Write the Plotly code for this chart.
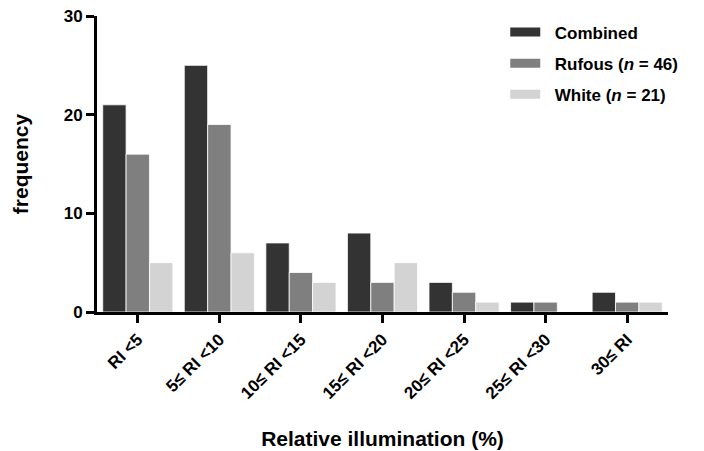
import plotly.graph_objects as go

categories = ["RI <5", "5≤ RI <10", "10≤ RI <15", "15≤ RI <20", "20≤ RI <25", "25≤ RI <30", "30≤ RI"]
combined = [21, 25, 7, 8, 3, 1, 2]
rufous = [16, 19, 4, 3, 2, 1, 1]
white = [5, 6, 3, 5, 1, 0, 1]
series_names = ["Combined", "Rufous (<i>n</i> = 46)", "White (<i>n</i> = 21)"]
colors = ["#333333", "#7f7f7f", "#d3d3d3"]
y_ticks = [0, 10, 20, 30]

font_family = "Liberation Sans, Arial, sans-serif"

fig = go.Figure()
for i, (name, vals, col) in enumerate(zip(series_names, [combined, rufous, white], colors)):
    fig.add_trace(go.Bar(
        x=categories, y=vals, name=name, showlegend=False,
        marker=dict(color=col, line=dict(color="white", width=0.8)),
    ))
    # legend-only entry with a wide rectangular swatch
    fig.add_trace(go.Scatter(
        x=[None], y=[None], mode="lines", name="&nbsp;&nbsp;<b>" + name + "</b>",
        legendgroup=f"g{i}", line=dict(color=col, width=9), showlegend=True,
    ))

# page body has an 8px margin; margins below compensate so the plot area sits at
# x 97..668, y 16..312 on the page
fig.update_layout(
    width=704, height=451,
    margin=dict(l=89, r=44, t=8, b=147, autoexpand=False),
    paper_bgcolor="white", plot_bgcolor="white",
    barmode="group", bargap=0.14, bargroupgap=0.0,
    font=dict(family=font_family, color="black"),
    legend=dict(
        x=0.715, y=1.005, xanchor="left", yanchor="top",
        font=dict(size=17, family=font_family, color="black"),
        bgcolor="rgba(0,0,0,0)", tracegroupgap=6,
    ),
    showlegend=True,
)

fig.update_xaxes(
    showline=True, linecolor="black", linewidth=3,
    ticks="outside", ticklen=8, tickwidth=3, tickcolor="black",
    tickangle=-45, ticklabeloverflow="allow",
    tickfont=dict(size=17, family=font_family, color="black", weight="bold"),
    title=dict(text="<b>Relative illumination (%)</b>", font=dict(size=21, family=font_family), standoff=30),
    range=[-0.5, 6.5], automargin=False,
    showgrid=False, zeroline=False,
)
fig.update_yaxes(
    showline=True, linecolor="black", linewidth=3,
    ticks="outside", ticklen=8, tickwidth=3, tickcolor="black",
    tickvals=y_ticks, ticklabeloverflow="allow",
    tickfont=dict(size=17, family=font_family, color="black", weight="bold"),
    title=dict(text="<b>frequency</b>", font=dict(size=21, family=font_family), standoff=30),
    range=[0, 30], automargin=False,
    showgrid=False, zeroline=False,
)

fig.write_html("out.html")
